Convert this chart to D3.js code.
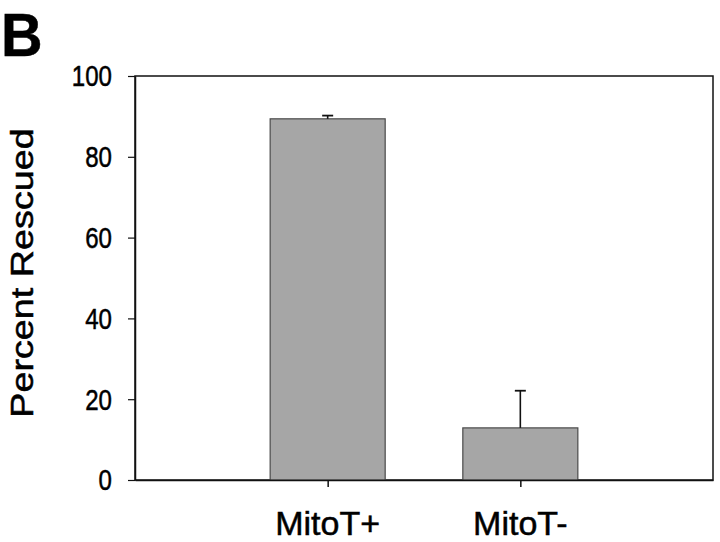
<!DOCTYPE html>
<html>
<head>
<meta charset="utf-8">
<script src="https://cdn.jsdelivr.net/npm/d3@7"></script>
<style>
  html, body { margin: 0; padding: 0; background: #fff; }
  svg { display: block; }
  text { font-family: "Liberation Sans", Arial, Helvetica, sans-serif; fill: #000; stroke: #000; stroke-width: 0.5px; }
</style>
</head>
<body>
<svg id="chart" width="720" height="542"></svg>
<script>
// ---- data ----
const categories = ["MitoT+", "MitoT-"];
const values = [89.4, 12.9];
const errors = [0.8, 9.2];
const yTicks = [0, 20, 40, 60, 80, 100];
const panelLabel = "B";
const yLabel = "Percent Rescued";

// ---- layout ----
const plotL = 135, plotR = 713, plotT = 76, plotB = 480;
const svg = d3.select("#chart");

const x = d3.scalePoint().domain(categories).range([plotL, plotR]).padding(1);
const y = d3.scaleLinear().domain([0, 100]).range([plotB, plotT]);
const barW = x.step() * 0.597;

// frame
svg.append("rect")
  .attr("x", plotL).attr("y", plotT)
  .attr("width", plotR - plotL).attr("height", plotB - plotT)
  .attr("fill", "none").attr("stroke", "#111").attr("stroke-width", 1.5);

// bars
const data = categories.map((c, i) => ({ c, v: values[i], e: errors[i] }));
svg.selectAll("rect.bar").data(data).enter().append("rect")
  .attr("class", "bar")
  .attr("x", d => x(d.c) - barW / 2)
  .attr("y", d => y(d.v))
  .attr("width", barW)
  .attr("height", d => y(0) - y(d.v))
  .attr("fill", "#a6a6a6")
  .attr("stroke", "#4a4a4a")
  .attr("stroke-width", 1.2);

// error bars (upward only)
const capW = 11;
svg.selectAll("line.err").data(data).enter().append("line")
  .attr("class", "err")
  .attr("x1", d => x(d.c)).attr("x2", d => x(d.c))
  .attr("y1", d => y(d.v)).attr("y2", d => y(d.v + d.e))
  .attr("stroke", "#111").attr("stroke-width", 1.6);
svg.selectAll("line.cap").data(data).enter().append("line")
  .attr("class", "cap")
  .attr("x1", d => x(d.c) - capW / 2).attr("x2", d => x(d.c) + capW / 2)
  .attr("y1", d => y(d.v + d.e)).attr("y2", d => y(d.v + d.e))
  .attr("stroke", "#111").attr("stroke-width", 1.8);

// y axis
const yAxis = d3.axisLeft(y).tickValues(yTicks).tickSize(7).tickSizeOuter(0).tickFormat("");
const gy = svg.append("g").attr("transform", `translate(${plotL},0)`).call(yAxis);
gy.select(".domain").attr("stroke", "#111").attr("stroke-width", 1.5);
gy.selectAll(".tick line").attr("stroke", "#111").attr("stroke-width", 1.2);

// y tick labels (slightly condensed like the reference)
svg.selectAll("text.ytl").data(yTicks).enter().append("text")
  .attr("class", "ytl")
  .attr("transform", d => `translate(112,${y(d)}) scale(0.83,1)`)
  .attr("dy", "0.36em")
  .attr("text-anchor", "end")
  .attr("font-size", 29)
  .text(d => d);

// x axis
const xAxis = d3.axisBottom(x).tickSize(7).tickSizeOuter(0).tickFormat("");
const gx = svg.append("g").attr("transform", `translate(0,${plotB})`).call(xAxis);
gx.select(".domain").attr("stroke", "#111").attr("stroke-width", 1.5);
gx.selectAll(".tick line").attr("stroke", "#111").attr("stroke-width", 1.5);

// x tick labels
svg.selectAll("text.xtl").data(categories).enter().append("text")
  .attr("class", "xtl")
  .attr("x", d => x(d))
  .attr("y", 535)
  .attr("text-anchor", "middle")
  .attr("font-size", 34)
  .text(d => d);

// y axis label
svg.append("text")
  .attr("transform", "translate(33,273) rotate(-90) scale(1.18,1)")
  .attr("text-anchor", "middle")
  .attr("font-size", 32)
  .text(yLabel);

// panel label
svg.append("text")
  .attr("transform", "translate(1,56) scale(0.93,1)")
  .attr("font-size", 62)
  .attr("font-weight", "bold")
  .text(panelLabel);
</script>
</body>
</html>
